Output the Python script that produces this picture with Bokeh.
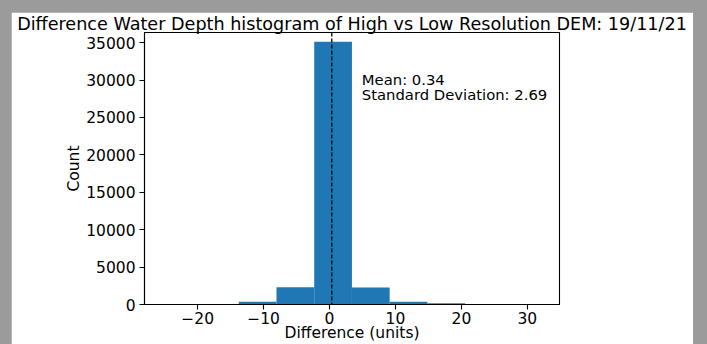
from bokeh.plotting import figure
from bokeh.models import Range1d, FixedTicker, Span, Label, ColumnDataSource
from bokeh.embed import file_html
from bokeh.resources import INLINE

# ---- data ----
bin_edges = [-25.2, -19.48, -13.76, -8.04, -2.32, 3.40, 9.12, 14.84, 20.56, 26.28, 32.0]
counts = [10, 40, 380, 2300, 35100, 2280, 380, 170, 20, 5]
mean_val = 0.34
std_val = 2.69
x_ticks = [-20, -10, 0, 10, 20, 30]
y_ticks = [0, 5000, 10000, 15000, 20000, 25000, 30000, 35000]
title_text = "Difference Water Depth histogram of High vs Low Resolution DEM: 19/11/21"
x_label = "Difference (units)"
y_label = "Count"

FONT = "DejaVu Sans"
TICK_FS = "15.5px"
NOTE_FS = "14.8px"

X0, X1 = -28.06, 34.88
p = figure(width=682, height=332, output_backend="svg", toolbar_location=None,
           x_range=Range1d(X0, X1), y_range=Range1d(0, 36350),
           min_border_left=133, min_border_right=134, min_border_top=0,
           min_border_bottom=40)

p.title.text = title_text
p.title.align = "center"
p.title.text_font = FONT
p.title.text_font_size = "17.6px"
p.title.text_font_style = "normal"
p.title.text_color = "black"
p.title.standoff = -2
p.title.text_line_height = 1.0

src = ColumnDataSource(dict(left=bin_edges[:-1], right=bin_edges[1:], top=counts))
p.quad(left="left", right="right", bottom=0, top="top", source=src,
       fill_color="#1f77b4", line_color=None)

p.add_layout(Span(location=mean_val, dimension="height", line_color="black",
                  line_dash="4 2", line_width=1.3))

p.add_layout(Label(x=4.9, y=30100, text=f"Mean: {mean_val}", text_font=FONT,
                   text_font_size=NOTE_FS, text_color="black", text_baseline="alphabetic"))
p.add_layout(Label(x=4.9, y=28060, text=f"Standard Deviation: {std_val}", text_font=FONT,
                   text_font_size=NOTE_FS, text_color="black", text_baseline="alphabetic"))

p.xgrid.visible = False
p.ygrid.visible = False
p.background_fill_color = "white"
p.border_fill_color = "white"
p.outline_line_color = "black"
p.outline_line_width = 1.1

p.xaxis.ticker = FixedTicker(ticks=x_ticks)
p.yaxis.ticker = FixedTicker(ticks=y_ticks)
p.xaxis.major_label_overrides = {t: (str(t).replace("-", "\u2212")) for t in x_ticks}
p.yaxis.major_label_overrides = {t: str(t) for t in y_ticks}

for ax in (p.xaxis, p.yaxis):
    ax.axis_line_color = "black"
    ax.axis_line_width = 1.1
    ax.major_tick_line_color = "black"
    ax.major_tick_line_width = 1.1
    ax.major_tick_out = 5
    ax.major_tick_in = 0
    ax.minor_tick_line_color = None
    ax.major_label_text_font = FONT
    ax.major_label_text_font_size = TICK_FS
    ax.major_label_text_color = "black"
    ax.axis_label_text_font = FONT
    ax.axis_label_text_font_size = TICK_FS
    ax.axis_label_text_font_style = "normal"
    ax.axis_label_text_color = "black"

p.xaxis.axis_label = x_label
p.yaxis.axis_label = y_label
p.xaxis.major_label_text_line_height = 1.0
p.xaxis.axis_label_text_line_height = 1.0
p.xaxis.major_label_standoff = 2
p.xaxis.axis_label_standoff = -3
p.yaxis.major_label_standoff = 4
p.yaxis.axis_label_standoff = 0

html = file_html(p, INLINE)
css = ("<style>html,body{background:#9b9b9b !important;overflow:hidden;}"
       "body{margin:12px 0 0 11px !important;padding:0 !important;}</style>")
html = html.replace("</head>", css + "</head>", 1)
open("out.html", "w").write(html)
